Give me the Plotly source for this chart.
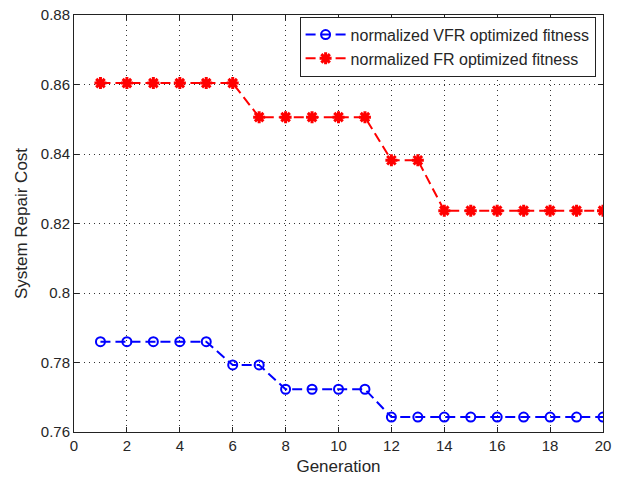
import plotly.graph_objects as go

generation = list(range(1, 21))
vfr_fitness = [0.786, 0.786, 0.786, 0.786, 0.786, 0.7793, 0.7793,
               0.7723, 0.7723, 0.7723, 0.7723,
               0.7643, 0.7643, 0.7643, 0.7643, 0.7643, 0.7643, 0.7643, 0.7643, 0.7643]
fr_fitness = [0.8604, 0.8604, 0.8604, 0.8604, 0.8604, 0.8604,
              0.8506, 0.8506, 0.8506, 0.8506, 0.8506,
              0.8382, 0.8382,
              0.8237, 0.8237, 0.8237, 0.8237, 0.8237, 0.8237, 0.8237]
x_ticks = list(range(0, 21, 2))
y_ticks = [0.76, 0.78, 0.80, 0.82, 0.84, 0.86, 0.88]
y_tick_text = ["0.76", "0.78", "0.8", "0.82", "0.84", "0.86", "0.88"]

FONT = "Liberation Sans, Arial, sans-serif"
TEXT_COLOR = "#262626"

fig = go.Figure()
fig.add_trace(go.Scatter(
    x=generation, y=vfr_fitness, mode="lines+markers",
    name="normalized VFR optimized fitness",
    line=dict(color="#0000ff", width=2, dash="10px,5px"),
    marker=dict(symbol="circle-open", size=9, color="#0000ff",
                line=dict(width=2, color="#0000ff")),
))
fig.add_trace(go.Scatter(
    x=generation, y=fr_fitness, mode="lines+markers",
    name="normalized FR optimized fitness",
    line=dict(color="#ff0000", width=2, dash="10px,5px"),
    marker=dict(symbol="asterisk-open", size=10, color="#ff0000",
                line=dict(width=3, color="#ff0000")),
))

axis_common = dict(
    showline=True, linecolor="#222222", linewidth=1, mirror="ticks",
    ticks="inside", ticklen=5, tickcolor="#222222",
    showgrid=True, gridcolor="#333333", griddash="1px,4px", gridwidth=1,
    zeroline=False, automargin=False,
    tickfont=dict(family=FONT, size=15, color=TEXT_COLOR),
    title_font=dict(family=FONT, size=17, color=TEXT_COLOR),
)

fig.update_xaxes(range=[0, 20], tickvals=x_ticks, title_text="Generation",
                 title_standoff=7, **axis_common)
fig.update_yaxes(range=[0.76, 0.88], tickvals=y_ticks, ticktext=y_tick_text,
                 title_text="System Repair Cost", title_standoff=8, **axis_common)

fig.update_layout(
    width=622, height=480,
    margin=dict(l=74, r=19, t=15, b=48),
    paper_bgcolor="white", plot_bgcolor="white",
    showlegend=True,
    legend=dict(
        x=0.986, y=0.996, xanchor="right", yanchor="top",
        bgcolor="white", bordercolor="#222222", borderwidth=1,
        font=dict(family=FONT, size=16, color=TEXT_COLOR),
        itemwidth=40,
    ),
)

fig.write_html("out.html")
